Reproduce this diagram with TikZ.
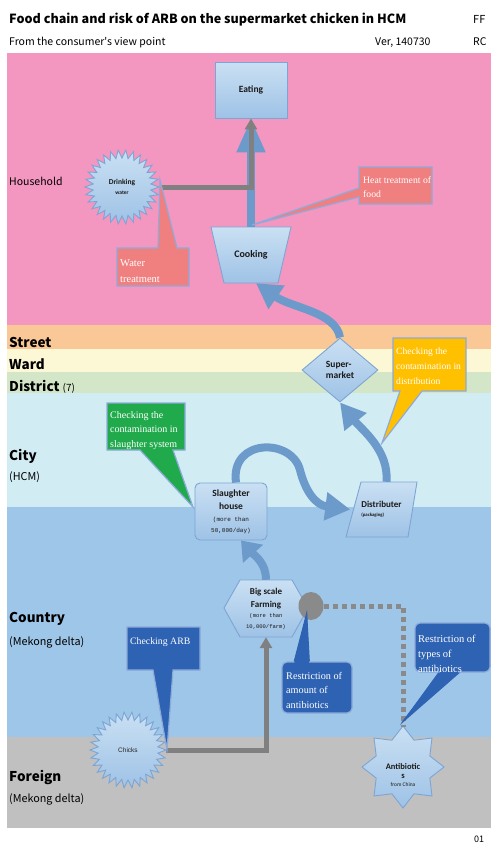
\documentclass[tikz,border=0pt]{standalone}
\usepackage{fontspec}
\setmainfont{Liberation Sans}
\newfontfamily\gothic{Noto Sans CJK JP}
\newfontfamily\calib{Carlito}
\newfontfamily\tms{Liberation Serif}
\newfontfamily\monof{Liberation Mono}
\usetikzlibrary{arrows.meta,shapes.geometric}
\definecolor{pinkbg}{RGB}{243,150,192}
\definecolor{streetbg}{RGB}{250,200,150}
\definecolor{wardbg}{RGB}{252,247,212}
\definecolor{distbg}{RGB}{212,230,200}
\definecolor{citybg}{RGB}{210,236,243}
\definecolor{countrybg}{RGB}{158,198,232}
\definecolor{foreignbg}{RGB}{192,192,192}
\definecolor{ntop}{RGB}{202,224,243}
\definecolor{nbot}{RGB}{158,194,230}
\definecolor{nborder}{RGB}{125,165,212}
\definecolor{flow}{RGB}{108,155,203}
\definecolor{greyline}{RGB}{128,128,128}
\definecolor{dotgrey}{RGB}{138,138,138}
\definecolor{salmon}{RGB}{240,128,128}
\definecolor{callborder}{RGB}{142,170,219}
\definecolor{amber}{RGB}{255,192,0}
\definecolor{greenc}{RGB}{32,170,76}
\definecolor{darkblue}{RGB}{46,98,178}
\newcommand{\smallmono}{\monof\mdseries\fontsize{6}{8.5}\selectfont}
\newcommand{\tinymono}{\monof\mdseries\fontsize{5.5}{8}\selectfont}
\begin{document}
\begin{tikzpicture}[x=1pt,y=-1pt,
 nodebox/.style={draw=nborder, line width=0.9pt, top color=ntop, bottom color=nbot},
 flowarrow/.style={draw=flow, line width=8pt, -{Triangle[width=27pt,length=25pt]}},
 greyarrow/.style={draw=greyline, line width=5pt, -{Triangle[width=12pt,length=11pt]}},
 dotline/.style={draw=dotgrey, line width=5pt, dash pattern=on 5pt off 4pt},
 lab/.style={anchor=base west, inner sep=0pt, font=\gothic\bfseries\fontsize{13.5}{14}\selectfont},
 sublab/.style={anchor=base west, inner sep=0pt, font=\gothic\fontsize{10.8}{12}\selectfont},
 ntext/.style={inner sep=0pt, align=center, text=black!90, font=\calib\bfseries\fontsize{9.5}{11}\selectfont},
 calltext/.style={anchor=base west, inner sep=0pt, align=left, text=white, font=\tms\fontsize{10}{14.5}\selectfont},
 callout/.style={draw=callborder, line width=1.2pt}
]
\useasboundingbox (0,0) rectangle (491,844);
\fill[white] (0,0) rectangle (491,844);
% bands
\fill[pinkbg] (7,53) rectangle (491,325);
\fill[streetbg] (7,325) rectangle (491,349);
\fill[wardbg] (7,349) rectangle (491,372);
\fill[distbg] (7,372) rectangle (491,393);
\fill[citybg] (7,393) rectangle (491,507);
\fill[countrybg] (7,507) rectangle (491,737);
\fill[foreignbg] (7,737) rectangle (491,828);
% header
\node[anchor=base west, inner sep=0pt, font=\gothic\bfseries\fontsize{12.6}{13}\selectfont] (title) at (9,23.5) {Food chain and risk of ARB on the supermarket chicken in HCM};
\node[anchor=base west, inner sep=0pt, font=\gothic\fontsize{11}{11}\selectfont] (ff) at (473,23.5) {FF};
\node[anchor=base west, inner sep=0pt, font=\gothic\fontsize{10.5}{11}\selectfont] (subtitle) at (9,45) {From the consumer's view point};
\node[anchor=base west, inner sep=0pt, font=\gothic\fontsize{10.5}{11}\selectfont] (ver) at (375,45) {Ver, 140730};
\node[anchor=base west, inner sep=0pt, font=\gothic\fontsize{10.5}{11}\selectfont] (rc) at (473,45) {RC};
\node[anchor=base west, inner sep=0pt, font=\gothic\fontsize{9}{10}\selectfont] (pg) at (474,842) {01};
% left labels
\node[sublab, font=\gothic\fontsize{10.5}{11}\selectfont] (lhouse) at (9,185) {Household};
\node[lab] (lstreet) at (9,347) {Street};
\node[lab] (lward) at (9,369) {Ward};
\node[lab] (ldistrict) at (9,391) {District {\mdseries\fontsize{10}{10}\selectfont(7)}};
\node[lab] (lcity) at (9,460) {City};
\node[sublab] (lhcm) at (9,480) {(HCM)};
\node[lab] (lcountry) at (9,622) {Country};
\node[sublab] (lmek1) at (9,645) {(Mekong delta)};
\node[lab] (lforeign) at (9,781) {Foreign};
\node[sublab] (lmek2) at (9,802) {(Mekong delta)};

% ---- nodes ----
\node[nodebox, ntext, minimum width=72pt, minimum height=56pt] (eat) at (251,90) {Eating};
% drinking water starburst
\path[nodebox] ([shift={(122,187)}]0:37) \foreach \i in {0,...,29} { -- ([shift={(122,187)}]\i*12+6:29) -- ([shift={(122,187)}]\i*12+12:37) } -- cycle;
\node[ntext, circle, minimum size=74pt] (dw) at (122,187) {\fontsize{7.5}{9}\selectfont Drinking\\[-1.5pt]\fontsize{5.5}{6}\selectfont water};
% cooking
\path[nodebox] (211,227) -- (291,227) -- (278,283) -- (224,283) -- cycle;
\node[ntext, font=\calib\bfseries\fontsize{10}{11}\selectfont, minimum width=80pt, minimum height=56pt] (cook) at (251,255) {Cooking};
% supermarket
\node[nodebox, diamond, ntext, align=left, minimum width=76pt, minimum height=64pt] (sup) at (340,370) {Super-\\market};
% distributer
\path[nodebox] (361,482) -- (417,482) -- (408,537) -- (346,537) -- cycle;
\node[ntext, align=left, font=\calib\bfseries\fontsize{9}{11}\selectfont, minimum width=62pt, minimum height=55pt] (dist) at (381.5,509.5) {Distributer\\[-2pt]\fontsize{4.8}{5}\selectfont (packaging)};
% slaughter house
\node[nodebox, rounded corners=5pt, ntext, minimum width=72pt, minimum height=57pt] (sl) at (231,511.5) {Slaughter\\[2pt]house\\[1pt]\smallmono (more than\\\smallmono 50,000/day)};
% farm
\path[nodebox] (224,608) -- (240,580) -- (292,580) -- (308,608) -- (292,637) -- (240,637) -- cycle;
\node[ntext, font=\calib\bfseries\fontsize{9}{11}\selectfont, minimum width=84pt, minimum height=57pt] (farm) at (266,608.5) {Big scale\\[2pt]Farming\\[-1pt]\tinymono (more than\\\tinymono 10,000/farm)};
% grey circle
\node[ellipse, fill=dotgrey, minimum width=25pt, minimum height=28pt, inner sep=0pt] (circ) at (311,606) {};
% chicks starburst
\path[nodebox] ([shift={(128,750)}]0:38) \foreach \i in {0,...,29} { -- ([shift={(128,750)}]\i*12+6:30) -- ([shift={(128,750)}]\i*12+12:38) } -- cycle;
\node[circle, minimum size=76pt, inner sep=0pt, text=black!85, font=\fontsize{6.5}{7}\selectfont] (chicks) at (128,750) {Chicks};
% antibiotics star
\path[nodebox] ([shift={(403,767)}]90:41) \foreach \i in {0,...,7} { -- ([shift={(403,767)}]\i*45+112.5:29) -- ([shift={(403,767)}]\i*45+135:41) } -- cycle;
\node[circle, minimum size=80pt, inner sep=0pt] (anti) at (403,767) {};
\node[ntext, font=\calib\bfseries\fontsize{8.5}{10}\selectfont] (antitext) at (403,775) {Antibiotic\\[-1pt]s\\[-2pt]\mdseries\fontsize{5.5}{6}\selectfont from China};

% ---- connectors ----
\draw[flow, line width=8pt, -{Triangle[width=27pt,length=34pt]}] (cook.north) -- (eat.south);
\draw[greyarrow] (dw.east) -| (eat.south);
\draw[flowarrow] (sup.north) .. controls (336,312) and (292,308) .. ([xshift=5]cook.south);
\draw[flowarrow] ([xshift=5]dist.north) .. controls (389,450) and (362,430) .. (sup.south);
\draw[flowarrow] ([xshift=5]sl.north) .. controls (230,438) and (292,438) .. (300,470) .. controls (305,490) and (315,505) .. (dist.west);
\draw[flowarrow, -{Triangle[width=26pt,length=18pt]}] (farm.north) .. controls (266,563) and (255,556) .. ([xshift=10]sl.south);
\draw[greyarrow] (chicks.east) -| (farm.south);
\draw[dotline] (circ.east) -| (anti.north);

% ---- callouts ----
\path[fill=salmon, callout] (359,167) -- (432,167) -- (432,204) -- (359,204) -- (359,197) -- (252,225) -- (359,188) -- cycle;
\node[calltext, font=\tms\fontsize{9.7}{14.5}\selectfont] (heatc) at (363,197.5) {Heat treatment of\\food};
\path[fill=salmon, callout] (117,248) -- (158,248) -- (160,180) -- (177,248) -- (189,248) -- (189,286) -- (117,286) -- cycle;
\node[calltext, font=\tms\fontsize{10.5}{16.5}\selectfont] (waterc) at (120,282.5) {Water\\treatment};
\path[fill=amber, callout] (393,338) -- (466,338) -- (466,391) -- (422,391) -- (382,443) -- (400,391) -- (393,391) -- cycle;
\node[calltext, font=\tms\fontsize{9.6}{15}\selectfont] (distc) at (396,384.5) {Checking the\\contamination in\\distribution};
\path[fill=greenc, callout] (107,403) -- (185,403) -- (185,450) -- (173,450) -- (193,507) -- (140,450) -- (107,450) -- cycle;
\node[calltext] (slc) at (110,447) {Checking the\\contamination in\\slaughter system};
\path[fill=darkblue, callout] (127,627) -- (200,627) -- (200,670) -- (173,670) -- (167,750) -- (153,670) -- (127,670) -- cycle;
\node[calltext, font=\tms\fontsize{9.8}{14}\selectfont] (arbc) at (130,644) {Checking ARB};
\fill[darkblue] (293,664) -- (307,610) -- (310,664) -- cycle;
\path[fill=darkblue, callout, rounded corners=5pt] (282,662) rectangle (352,713);
\fill[darkblue] (294,664) -- (307,612) -- (309,664) -- cycle;
\node[calltext, font=\tms\fontsize{10.2}{14.5}\selectfont] (ramt) at (286,708) {Restriction of\\amount of\\antibiotics};
\fill[darkblue] (440,670) -- (400,725) -- (463,670) -- cycle;
\path[fill=darkblue, callout, rounded corners=5pt] (415,623) rectangle (490,672);
\fill[darkblue] (442,670) -- (401,723) -- (461,670) -- cycle;
\begin{scope}
\clip (415,623) rectangle (490,671);
\node[calltext, font=\tms\fontsize{10.5}{15}\selectfont] (rtype) at (418,672) {Restriction of\\types of\\antibiotics};
\end{scope}
\end{tikzpicture}
\end{document}
